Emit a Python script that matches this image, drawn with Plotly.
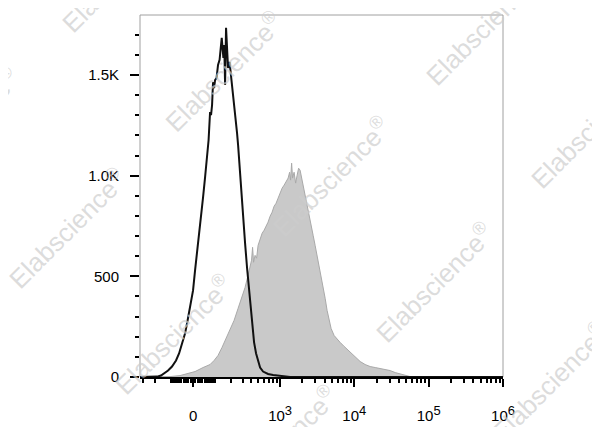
import numpy as np
import plotly.graph_objects as go

# ---- display scale (arcsinh / biexponential) ----
COFACTOR = 135.4


def biex(v):
    return np.arcsinh(np.asarray(v, dtype=float) / COFACTOR) / np.log(10)


# ---- data: histogram bins on the biexponential channel scale, and event counts ----
isotype_channel = [-0.713, -0.579, -0.485, -0.431, -0.377, -0.336, -0.283, -0.229, -0.188, -0.148,
                   -0.108, -0.081, -0.040, 0.000, 0.027, 0.054, 0.081, 0.108, 0.135, 0.162,
                   0.188, 0.209, 0.229, 0.242, 0.256, 0.269, 0.283, 0.296, 0.316, 0.336,
                   0.357, 0.377, 0.386, 0.397, 0.408, 0.420, 0.431, 0.444, 0.458, 0.471,
                   0.491, 0.511, 0.525, 0.538, 0.558, 0.579, 0.592, 0.606, 0.619, 0.646,
                   0.673, 0.700, 0.727, 0.754, 0.781, 0.801, 0.821, 0.848, 0.875, 0.902,
                   0.942, 1.009, 1.077, 1.144, 1.211, 1.306, 4.172]
isotype_counts = [0, 0, 2, 7, 22, 32, 52, 82, 117, 167,
                  216, 266, 341, 430, 530, 614, 704, 793, 893, 993,
                  1102, 1177, 1316, 1301, 1351, 1465, 1435, 1475, 1485, 1550,
                  1575, 1634, 1684, 1634, 1585, 1649, 1450, 1734, 1624, 1535,
                  1565, 1500, 1425, 1390, 1316, 1251, 1211, 1152, 1077, 928,
                  794, 664, 540, 430, 331, 246, 172, 117, 77, 47,
                  27, 15, 10, 7, 2, 0, 0]

stained_channel = [-0.713, -0.445, -0.310, -0.175, -0.067, 0.027, 0.135, 0.229, 0.283, 0.336,
                   0.390, 0.444, 0.498, 0.552, 0.606, 0.659, 0.700, 0.740, 0.767, 0.787,
                   0.801, 0.814, 0.834, 0.855, 0.875, 0.902, 0.929, 0.956, 0.983, 1.009,
                   1.036, 1.063, 1.090, 1.117, 1.144, 1.171, 1.198, 1.225, 1.252, 1.279,
                   1.299, 1.312, 1.326, 1.339, 1.359, 1.380, 1.400, 1.420, 1.440, 1.460,
                   1.480, 1.507, 1.534, 1.561, 1.588, 1.615, 1.642, 1.669, 1.696, 1.723,
                   1.750, 1.777, 1.803, 1.830, 1.857, 1.898, 1.938, 1.978, 2.032, 2.086,
                   2.140, 2.194, 2.248, 2.315, 2.382, 2.450, 2.517, 2.584, 2.651, 2.719,
                   2.786, 2.853, 2.921, 2.988, 4.172]
stained_counts = [0, 0, 2, 7, 17, 27, 47, 62, 82, 107,
                  147, 192, 231, 281, 341, 396, 445, 505, 550, 580,
                  644, 570, 604, 590, 654, 689, 714, 729, 749, 769,
                  798, 818, 848, 863, 888, 918, 938, 953, 968, 988,
                  1017, 978, 1062, 988, 1017, 963, 1002, 1037, 1027, 988,
                  953, 903, 853, 803, 754, 704, 654, 604, 555, 500,
                  445, 391, 331, 281, 241, 206, 187, 172, 152, 132,
                  112, 92, 77, 62, 52, 47, 42, 37, 32, 22,
                  15, 7, 2, 0, 0]

# ---- axis ticks ----
x_major_values = [0, 1e3, 1e4, 1e5, 1e6]
x_major_labels = ["0"] + ["10<sup><span style='font-size:13px'>%d</span></sup>" % e for e in (3, 4, 5, 6)]
x_minor_values = ([-300, -200, -100] + list(range(-90, 0, 10)) + list(range(10, 100, 10))
                  + list(range(100, 1000, 100)) + list(range(2000, 10000, 1000))
                  + list(range(20000, 100000, 10000)) + list(range(200000, 1000000, 100000)))
x_limits = [-337, 1.0e6]

y_major_values = [0, 500, 1000, 1500]
y_major_labels = ["0", "500", "1.0K", "1.5K"]
y_limits = [0, 1798]

watermark_text = "Elabscience<sup>®</sup>"
# watermark centres in page pixels (x, y from top-left)
watermark_pixels = [(224, 72), (484, 25), (67, 228), (331, 176), (589, 128), (173, 334),
                    (434, 282), (550, 382), (278, 445), (120, -28), (-40, 127)]

# the page body adds an 8px offset; the figure is sized to fill the rest of the window
OFF = 8
W, H = 600 - OFF, 427 - OFF
PL, PR, PT, PB = 140, 503, 15, 377          # plot box in page pixels
L, T = PL - OFF, PT - OFF
R, B = W - (PR - OFF), H - (PB - OFF)

fig = go.Figure()
fig.add_trace(go.Scatter(
    x=stained_channel, y=stained_counts, mode="lines",
    line=dict(color="#a9a9a9", width=1), fill="tozeroy", fillcolor="#c9c9c9",
    hoverinfo="skip"))
fig.add_trace(go.Scatter(
    x=isotype_channel, y=isotype_counts, mode="lines",
    line=dict(color="#111111", width=2), hoverinfo="skip"))

fig.add_shape(type="rect", xref="paper", yref="paper", x0=0, x1=1, y0=0, y1=1,
              line=dict(color="#a0a0a0", width=1), layer="below")

pw, ph = PR - PL, PB - PT
annotations = []
for px, py in watermark_pixels:
    annotations.append(dict(
        x=(px - PL) / pw, y=(PB - py) / ph, xref="paper", yref="paper",
        text=watermark_text, showarrow=False, textangle=-45,
        xanchor="center", yanchor="middle",
        font=dict(family="Liberation Sans, Arial, sans-serif", size=26,
                  color="rgba(205,205,205,0.7)")))

fig.update_layout(
    width=W, height=H,
    margin=dict(l=L, r=R, t=T, b=B, pad=0, autoexpand=False),
    paper_bgcolor="white", plot_bgcolor="white",
    showlegend=False,
    font=dict(family="Liberation Sans, Arial, sans-serif", color="black", size=15),
    annotations=annotations,
    xaxis=dict(
        automargin=False,
        range=list(biex(x_limits)), showgrid=False, zeroline=False,
        showline=True, linecolor="black", linewidth=2,
        ticks="outside", ticklen=8, tickwidth=2, tickcolor="black",
        tickmode="array", tickvals=list(biex(x_major_values)), ticktext=x_major_labels,
        tickfont=dict(size=15), ticklabelstandoff=16,
        minor=dict(tickmode="array", tickvals=list(biex(x_minor_values)),
                   ticks="outside", ticklen=4, tickwidth=1.5, tickcolor="black",
                   showgrid=False),
    ),
    yaxis=dict(
        automargin=False,
        range=y_limits, showgrid=False, zeroline=False, showline=False,
        ticks="outside", ticklen=9, tickwidth=2, tickcolor="black",
        tickmode="array", tickvals=y_major_values, ticktext=y_major_labels,
        tickfont=dict(size=15), ticklabelstandoff=8,
        minor=dict(dtick=100, tick0=0, ticks="outside", ticklen=4, tickwidth=1.5,
                   tickcolor="black", showgrid=False),
    ),
)

fig.write_html("out.html")
